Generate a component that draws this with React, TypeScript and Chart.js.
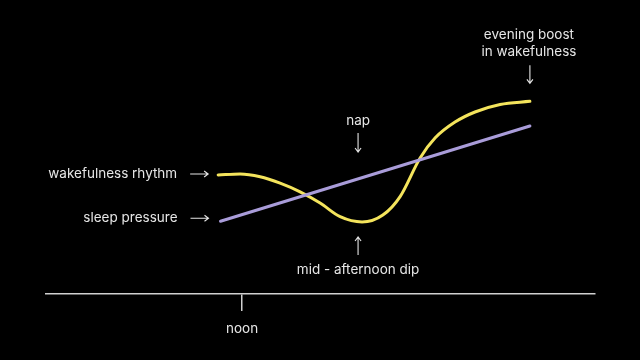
import React, { useEffect, useRef } from "react";
import { Chart, registerables } from "chart.js";

Chart.register(...registerables);

// time of day in hours, wakefulness rhythm level (arbitrary units)
const wakeHours = [11.39, 11.95, 12.46, 12.97, 13.48, 13.99, 14.5, 15.06, 15.59, 16.03, 16.54, 16.92, 17.43, 17.94, 18.58, 19.34];
const wakeLevel = [4.25, 4.29, 4.19, 3.96, 3.65, 3.25, 2.76, 2.57, 2.82, 3.48, 4.86, 5.57, 6.14, 6.5, 6.77, 6.88];

// sleep pressure (linear build-up)
const pressureHours = [11.45, 19.34];
const pressureLevel = [2.6, 6.0];

// x-axis ticks
const tickHours = [12];
const tickLabels = ["noon"];

const FONT = "Inter, 'Open Sans', sans-serif";
const TEXT = "#e6e6e6";

const annotationPlugin = {
  id: "annotations",
  afterDatasetsDraw(chart: any) {
    const ctx = chart.ctx;
    const xs = chart.scales.x;
    const ys = chart.scales.y;
    const wx0 = xs.getPixelForValue(wakeHours[0]);
    const wy0 = ys.getPixelForValue(wakeLevel[0]);
    const px0 = xs.getPixelForValue(pressureHours[0]);
    const py0 = ys.getPixelForValue(pressureLevel[0]);
    let minI = 0;
    wakeLevel.forEach((v, i) => { if (v < wakeLevel[minI]) minI = i; });
    const mx = xs.getPixelForValue(wakeHours[minI]) - 4;
    const my = ys.getPixelForValue(wakeLevel[minI]);
    const lastI = wakeHours.length - 1;
    const ex = xs.getPixelForValue(wakeHours[lastI]) - 1;
    const ey = ys.getPixelForValue(wakeLevel[lastI]);

    ctx.save();
    ctx.fillStyle = TEXT;
    ctx.strokeStyle = TEXT;
    ctx.lineWidth = 1.1;
    ctx.font = `13.5px ${FONT}`;
    ctx.textBaseline = "middle";

    const arrowH = (x1: number, x2: number, y: number) => {
      ctx.beginPath();
      ctx.moveTo(x1, y); ctx.lineTo(x2, y);
      ctx.moveTo(x2 - 4, y - 3); ctx.lineTo(x2, y); ctx.lineTo(x2 - 4, y + 3);
      ctx.stroke();
    };
    const arrowV = (x: number, y1: number, y2: number) => {
      const d = y2 > y1 ? 1 : -1;
      ctx.beginPath();
      ctx.moveTo(x, y1); ctx.lineTo(x, y2);
      ctx.moveTo(x - 3, y2 - 4 * d); ctx.lineTo(x, y2); ctx.lineTo(x + 3, y2 - 4 * d);
      ctx.stroke();
    };

    ctx.textAlign = "right";
    ctx.fillText("wakefulness rhythm", wx0 - 41, wy0 - 1);
    arrowH(wx0 - 28, wx0 - 10, wy0 - 1);
    ctx.fillText("sleep pressure", px0 - 43, py0 - 3);
    arrowH(px0 - 30, px0 - 12, py0 - 3);

    ctx.textAlign = "center";
    ctx.fillText("nap", mx, my - 101);
    arrowV(mx, my - 89, my - 70);
    ctx.fillText("mid - afternoon dip", mx, my + 48);
    arrowV(mx, my + 33, my + 15);

    ctx.fillText("evening boost", ex, ey - 66);
    ctx.fillText("in wakefulness", ex, ey - 49);
    arrowV(ex + 1, ey - 36, ey - 18);
    ctx.restore();
  },
};

export default function App() {
  const ref = useRef<HTMLCanvasElement | null>(null);
  useEffect(() => {
    if (!ref.current) return;
    const chart = new Chart(ref.current, {
      type: "line",
      data: {
        datasets: [
          {
            label: "sleep pressure",
            data: pressureHours.map((h, i) => ({ x: h, y: pressureLevel[i] })),
            borderColor: "#a99cd9",
            borderWidth: 3,
            pointRadius: 0,
            borderCapStyle: "round",
          },
          {
            label: "wakefulness rhythm",
            data: wakeHours.map((h, i) => ({ x: h, y: wakeLevel[i] })),
            borderColor: "#f4e45c",
            borderWidth: 3,
            pointRadius: 0,
            cubicInterpolationMode: "monotone",
            borderCapStyle: "round",
          },
        ],
      },
      options: {
        animation: false,
        responsive: false,
        layout: { padding: { left: 46, right: 45, top: 14, bottom: 16 } },
        plugins: { legend: { display: false }, tooltip: { enabled: false } },
        scales: {
          x: {
            type: "linear",
            min: 7,
            max: 21,
            afterBuildTicks: (scale: any) => {
              scale.ticks = tickHours.map((v) => ({ value: v }));
            },
            afterFit: (scale: any) => {
              scale.height = 50;
            },
            ticks: {
              color: TEXT,
              font: { family: FONT, size: 13.5 },
              padding: 10,
              maxRotation: 0,
              callback: (v: any) => {
                const i = tickHours.indexOf(Number(v));
                return i >= 0 ? tickLabels[i] : "";
              },
            },
            grid: {
              display: true,
              drawOnChartArea: false,
              drawTicks: true,
              tickLength: 17,
              color: "#d0d0d0",
              lineWidth: 1.5,
            },
            border: { display: true, color: "#d0d0d0", width: 1.5 },
          },
          y: { display: false, min: 0, max: 10 },
        },
      },
      plugins: [annotationPlugin],
    } as any);
    return () => chart.destroy();
  }, []);
  return (
    <div style={{ position: "fixed", left: 0, top: 0, width: 640, height: 360, background: "#000" }}>
      <canvas ref={ref} width={640} height={360} style={{ display: "block" }} />
    </div>
  );
}
